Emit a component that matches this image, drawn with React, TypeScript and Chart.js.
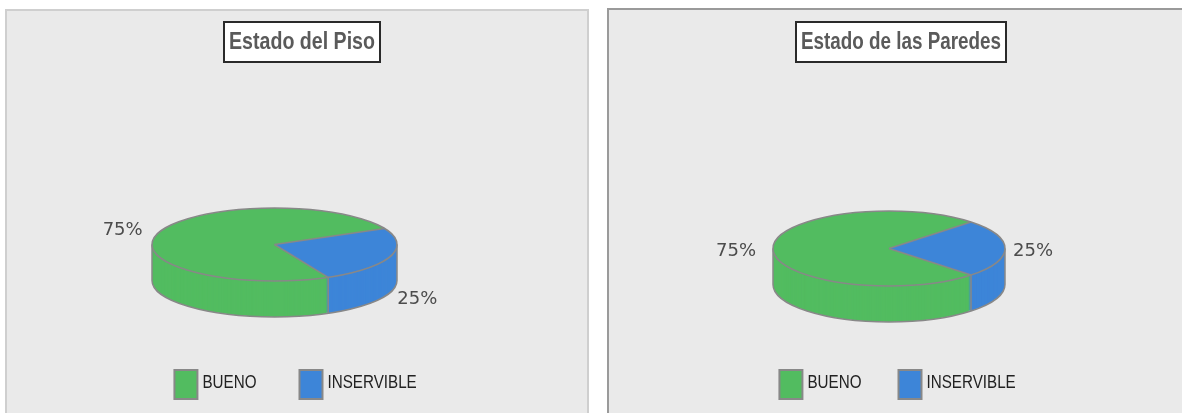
import React, { useEffect, useRef } from "react";
import { Chart, registerables } from "chart.js";

Chart.register(...registerables);

const categories = ["BUENO", "INSERVIBLE"];
const valuesPiso = [75, 25];
const valuesParedes = [75, 25];
const sliceColors = ["#52BC60", "#3D85D8"];
const tituloPiso = "Estado del Piso";
const tituloParedes = "Estado de las Paredes";

const FONT = "'Liberation Sans', sans-serif";
const OUTLINE = "#888888";
const LEGEND_TEXT_SQUEEZE = 0.8;
const LEGEND_TEXT_PULL = 4.5;
const LEGEND_TEXT_LIFT = 2;
const PERCENT_DROP = 2.5;
const CANVAS_HEIGHT = 409;

// Wraps the title and legend drawing so their real text comes out condensed.
function condenseTextBlocks(chart: any, o: any, boxWidth: number) {
  const title = chart.titleBlock;
  const legend = chart.legend;
  if (title.__condensed) return;
  title.__condensed = true;

  const drawTitle = title.draw.bind(title);
  title.draw = (...rest: any[]) => {
    const { ctx } = chart;
    const opts = chart.options.plugins.title;
    ctx.save();
    ctx.font = `${opts.font.weight} ${opts.font.size}px ${opts.font.family}`;
    const k = (boxWidth - o.titlePadX * 2) / ctx.measureText(opts.text).width;
    ctx.restore();
    const cx = (title.left + title.right) / 2;
    ctx.save();
    ctx.translate(cx, 0);
    ctx.scale(k, 1);
    ctx.translate(-cx, 0);
    drawTitle(...rest);
    ctx.restore();
  };

  const drawLegend = legend.draw.bind(legend);
  legend.draw = (...rest: any[]) => {
    const { ctx } = chart;
    const fillText = ctx.fillText;
    ctx.fillText = function (text: string, x: number, y: number) {
      ctx.save();
      ctx.translate(x - LEGEND_TEXT_PULL, y - LEGEND_TEXT_LIFT);
      ctx.scale(LEGEND_TEXT_SQUEEZE, 1);
      fillText.call(ctx, text, 0, 0);
      ctx.restore();
    };
    ctx.save();
    ctx.translate(o.legendShift, 0);
    drawLegend(...rest);
    ctx.restore();
    delete ctx.fillText;
  };
}

// Squashes the round pie into a tilted disc: extruded rim below, outlines and percent labels on top.
const discPlugin = {
  id: "disc",
  afterLayout(chart: any, _a: any, o: any) {
    chart.titleBlock.left += o.titleShift;
    chart.titleBlock.right += o.titleShift;
  },
  beforeDraw(chart: any, _a: any, o: any) {
    const { ctx, titleBlock } = chart;
    condenseTextBlocks(chart, o, o.titleWidth);
    const cx = (titleBlock.left + titleBlock.right) / 2;
    ctx.save();
    ctx.fillStyle = "#ffffff";
    ctx.strokeStyle = "#2A2A2A";
    ctx.lineWidth = 2;
    ctx.fillRect(cx - o.titleWidth / 2, o.titleTop, o.titleWidth, o.titleHeight);
    ctx.strokeRect(cx - o.titleWidth / 2, o.titleTop, o.titleWidth, o.titleHeight);
    ctx.restore();
  },
  beforeDatasetDraw(chart: any, args: any, o: any) {
    const { ctx } = chart;
    const arcs = chart.getDatasetMeta(args.index).data;
    const squash = (dy: number) => {
      ctx.translate(o.cx, o.cy + dy);
      ctx.scale(1, o.ry / arcs[0].outerRadius);
      ctx.translate(-arcs[0].x, -arcs[0].y);
    };
    for (let d = o.depth; d >= 1; d--) {
      ctx.save();
      squash(d);
      arcs.forEach((a: any) => a.draw(ctx));
      ctx.restore();
    }
    ctx.save();
    squash(0);
  },
  afterDatasetDraw(chart: any, args: any, o: any) {
    const { ctx } = chart;
    ctx.restore();
    const arcs = chart.getDatasetMeta(args.index).data;
    const rx = arcs[0].outerRadius;
    const { cx, cy, ry, depth } = o;

    ctx.save();
    ctx.strokeStyle = OUTLINE;
    ctx.lineWidth = 1.5;
    ctx.beginPath();
    ctx.moveTo(cx - rx, cy);
    ctx.lineTo(cx - rx, cy + depth);
    ctx.ellipse(cx, cy + depth, rx, ry, 0, Math.PI, 0, true);
    ctx.lineTo(cx + rx, cy);
    ctx.stroke();
    ctx.beginPath();
    ctx.ellipse(cx, cy, rx, ry, 0, 0, Math.PI * 2);
    ctx.stroke();

    arcs.forEach((a: any) => {
      const ex = cx + rx * Math.cos(a.startAngle);
      const ey = cy + ry * Math.sin(a.startAngle);
      ctx.beginPath();
      ctx.moveTo(cx, cy);
      ctx.lineTo(ex, ey);
      if (Math.sin(a.startAngle) > 0) {
        ctx.moveTo(ex, ey);
        ctx.lineTo(ex, ey + depth);
      }
      ctx.stroke();
    });

    const values = chart.data.datasets[args.index].data;
    const total = values.reduce((s: number, v: number) => s + v, 0);
    ctx.fillStyle = "#4C4C4C";
    ctx.font = "18px 'DejaVu Sans', sans-serif";
    ctx.textAlign = "center";
    ctx.textBaseline = "middle";
    arcs.forEach((a: any, i: number) => {
      const mid = (a.startAngle + a.endAngle) / 2;
      const c = Math.cos(mid);
      const s = Math.sin(mid);
      const x = cx + rx * c + (c < 0 ? -o.labelGapLeft : o.labelGapRight);
      const y = cy + ry * s * 1.4 + (s > 0.1 ? depth : 0) + PERCENT_DROP;
      ctx.fillText(`${Math.round((values[i] / total) * 100)}%`, x, y);
    });
    ctx.restore();
  },
};

function makeConfig(
  title: string,
  values: number[],
  rotation: number,
  radius: number,
  legendGap: number,
  disc: any
) {
  return {
    type: "pie",
    data: {
      labels: categories,
      datasets: [
        {
          data: values,
          backgroundColor: sliceColors,
          borderWidth: 0,
          radius,
          clip: false,
        },
      ],
    },
    options: {
      responsive: false,
      animation: false,
      rotation,
      plugins: {
        tooltip: { enabled: false },
        title: {
          display: true,
          text: title,
          color: "#5A5A5A",
          font: { family: FONT, size: 24, weight: "bold", lineHeight: 1.2 },
          padding: { top: 28, bottom: 20 },
        },
        legend: {
          position: "bottom",
          labels: {
            boxWidth: 23,
            boxHeight: 29,
            padding: legendGap,
            color: "#222222",
            font: { family: FONT, size: 19 },
            generateLabels: (chart: any) =>
              Chart.overrides.pie.plugins.legend.labels
                .generateLabels(chart)
                .map((item: any) => ({ ...item, strokeStyle: OUTLINE, lineWidth: 2 })),
          },
        },
        disc,
      },
    },
    plugins: [discPlugin],
  };
}

function PiePanel(props: {
  left: number;
  width: number;
  title: string;
  values: number[];
  rotation: number;
  radius: number;
  legendGap: number;
  disc: any;
}) {
  const ref = useRef<HTMLCanvasElement | null>(null);
  useEffect(() => {
    const chart = new Chart(
      ref.current as HTMLCanvasElement,
      makeConfig(props.title, props.values, props.rotation, props.radius, props.legendGap, props.disc) as any
    );
    return () => chart.destroy();
  }, []);
  return (
    <canvas
      ref={ref}
      width={props.width}
      height={CANVAS_HEIGHT}
      style={{ position: "absolute", left: props.left, top: 0, width: props.width, height: CANVAS_HEIGHT }}
    />
  );
}

const panelBase: React.CSSProperties = {
  position: "absolute",
  boxSizing: "border-box",
  background: "#EAEAEA",
  height: 420,
};

export default function App() {
  return (
    <div style={{ position: "fixed", left: 0, top: 0, width: 1182, height: 413, overflow: "hidden", background: "#fff" }}>
      <div style={{ ...panelBase, left: 5, top: 9, width: 584, border: "2px solid #CFCFCF" }} />
      <div style={{ ...panelBase, left: 607, top: 8, width: 590, border: "2px solid #9A9A9A" }} />
      <PiePanel
        left={0}
        width={594}
        title={tituloPiso}
        values={valuesPiso}
        rotation={154}
        radius={122.5}
        legendGap={25}
        disc={{
          cx: 274.5,
          cy: 244.5,
          ry: 36.5,
          depth: 36,
          labelGapLeft: 36,
          labelGapRight: 27,
          titleShift: 5,
          titlePadX: 5,
          titleWidth: 156,
          titleTop: 22,
          titleHeight: 40,
          legendShift: 12,
        }}
      />
      <PiePanel
        left={608}
        width={574}
        title={tituloParedes}
        values={valuesParedes}
        rotation={135}
        radius={116}
        legendGap={19}
        disc={{
          cx: 281,
          cy: 248.5,
          ry: 37.5,
          depth: 36,
          labelGapLeft: 37,
          labelGapRight: 28,
          titleShift: 6,
          titlePadX: 5,
          titleWidth: 210,
          titleTop: 22,
          titleHeight: 40,
          legendShift: 16,
        }}
      />
    </div>
  );
}
